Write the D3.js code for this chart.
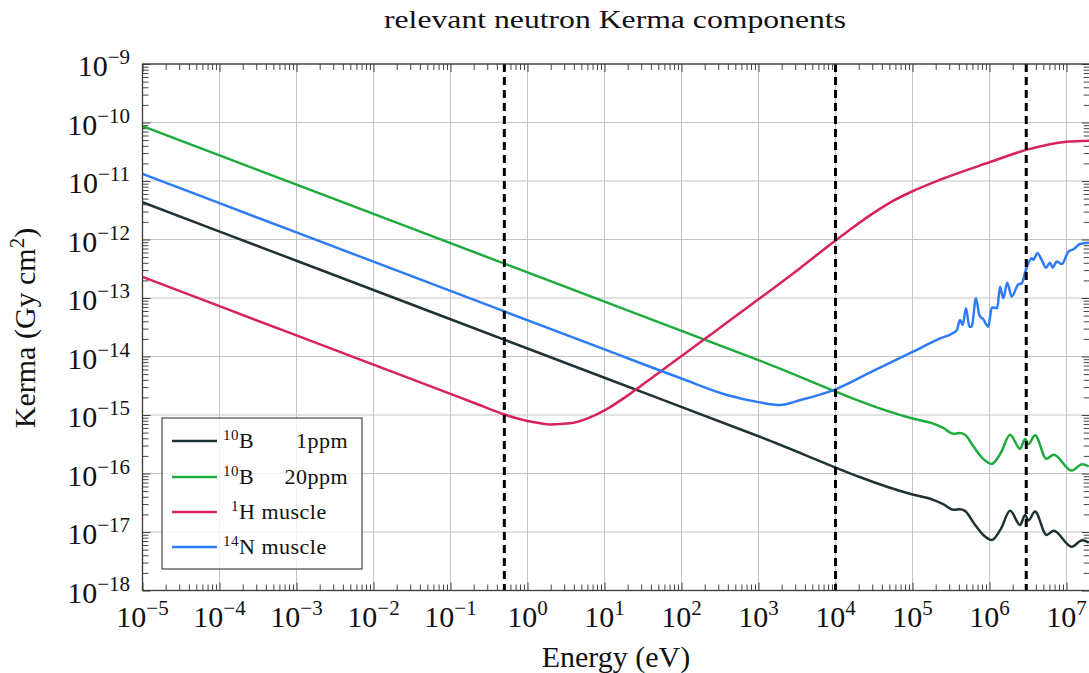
<!DOCTYPE html>
<html>
<head>
<meta charset="utf-8">
<script src="https://cdn.jsdelivr.net/npm/d3@7"></script>
<style>
  body { margin: 0; background: #fff; }
  text { font-family: "Liberation Serif", "DejaVu Serif", serif; fill: #111; }
</style>
</head>
<body>
<div id="chart"></div>
<script>
// energies (eV) and kerma values (Gy cm^2)
const boronE = [1e-5, 1e-3, 1e-1, 1e1, 1e3, 1e5, 1.86e5, 2.5e5, 3.4e5, 4.1e5, 4.8e5, 6.3e5, 8.3e5, 1.07e6, 1.4e6, 1.85e6, 2.5e6, 2.9e6, 3.2e6, 3.9e6, 5.5e6, 6.8e6, 1.17e7, 1.6e7, 1.95e7];
const boron1ppm = [4.33e-12, 4.33e-13, 4.33e-14, 4.33e-15, 4.33e-16, 4.37e-17, 3.55e-17, 3.0e-17, 2.4e-17, 2.45e-17, 2.3e-17, 1.4e-17, 8.9e-18, 7.3e-18, 1.12e-17, 2.3e-17, 1.32e-17, 1.95e-17, 1.58e-17, 2.24e-17, 8.9e-18, 1.05e-17, 5.6e-18, 7.2e-18, 6.6e-18];
const boron20ppm = [8.66e-11, 8.66e-12, 8.66e-13, 8.66e-14, 8.66e-15, 8.7e-16, 7.1e-16, 6.0e-16, 4.8e-16, 4.9e-16, 4.6e-16, 2.8e-16, 1.78e-16, 1.46e-16, 2.24e-16, 4.6e-16, 2.64e-16, 3.9e-16, 3.16e-16, 4.5e-16, 1.78e-16, 2.1e-16, 1.12e-16, 1.44e-16, 1.32e-16];

const hydrogenE = [1e-5, 1e-3, 1e-1, 0.2, 0.5, 1, 2, 3.6, 6.5, 10.7, 21.4, 42.7, 100, 190, 390, 1e3, 3.46e3, 1e4, 1.7e4, 3.1e4, 5.6e4, 1e5, 2.28e5, 1e6, 3e6, 1e7, 2e7];
const hydrogenMuscle = [2.29e-13, 2.29e-14, 2.29e-15, 1.62e-15, 1.02e-15, 7.9e-16, 6.9e-16, 7.2e-16, 9.1e-16, 1.26e-15, 2.29e-15, 4.47e-15, 1.02e-14, 1.9e-14, 3.8e-14, 9.5e-14, 3.24e-13, 9.6e-13, 1.62e-12, 2.82e-12, 4.57e-12, 6.68e-12, 1.05e-11, 2.09e-11, 3.4e-11, 4.7e-11, 4.9e-11];

const nitrogenE = [1e-5, 1e-3, 1e-1, 1e1, 1e2, 3.9e2, 1e3, 1.9e3, 3.5e3, 1e4, 3e4, 1e5, 1.25e5, 2.2e5, 3.75e5, 4.14e5, 4.49e5, 4.95e5, 5.47e5, 5.86e5, 6.68e5, 7.38e5, 8.32e5, 9.64e5, 1.07e6, 1.26e6, 1.37e6, 1.51e6, 1.7e6, 1.94e6, 2.37e6, 2.62e6, 2.98e6, 3.53e6, 3.71e6, 4.18e6, 4.76e6, 5.42e6, 6.11e6, 6.61e6, 7.46e6, 8.67e6, 1.06e7, 1.23e7, 1.5e7, 1.95e7];
const nitrogenMuscle = [1.32e-11, 1.32e-12, 1.32e-13, 1.32e-14, 4.2e-15, 2.2e-15, 1.66e-15, 1.48e-15, 1.8e-15, 2.75e-15, 5.56e-15, 1.2e-14, 1.38e-14, 2.0e-14, 2.8e-14, 4.2e-14, 3.45e-14, 6.7e-14, 3.24e-14, 3.24e-14, 9.9e-14, 5.1e-14, 4.3e-14, 3.24e-14, 6.9e-14, 6.7e-14, 1.56e-13, 9.9e-14, 1.83e-13, 1.06e-13, 1.71e-13, 1.78e-13, 3.1e-13, 4.8e-13, 4.5e-13, 5.8e-13, 4.5e-13, 3.3e-13, 4.0e-13, 3.3e-13, 4.2e-13, 3.8e-13, 6.2e-13, 6.8e-13, 8.4e-13, 8.8e-13];

const markerE = [0.5, 1e4, 3e6];
const seriesNames = ["1ppm", "20ppm", "muscle", "muscle"];

const width = 1089, height = 673;
const x = d3.scaleLog().domain([1e-5, 2e7]).range([142.5, 142.5 + 77 * Math.log10(2e12)]);
const y = d3.scaleLog().domain([1e-18, 1e-9]).range([590.5, 64]);

const svg = d3.select("#chart").append("svg")
  .attr("width", width)
  .attr("height", height);

const x0 = x.range()[0], x1 = x.range()[1], y0 = y.range()[1], y1 = y.range()[0];

const xMajor = d3.range(-5, 8).map(p => Math.pow(10, p));
const yMajor = d3.range(-18, -8).map(p => Math.pow(10, p));
const isMajor = v => Math.abs(Math.log10(v) - Math.round(Math.log10(v))) < 1e-9;
const xMinor = x.ticks(20).filter(v => !isMajor(v));
const yMinor = y.ticks(20).filter(v => !isMajor(v));

// grid
svg.append("g").selectAll("line").data(xMajor).join("line")
  .attr("x1", d => x(d)).attr("x2", d => x(d))
  .attr("y1", y0).attr("y2", y1)
  .attr("stroke", "#c4c4c4").attr("stroke-width", 1);
svg.append("g").selectAll("line").data(yMajor).join("line")
  .attr("x1", x0).attr("x2", x1)
  .attr("y1", d => y(d)).attr("y2", d => y(d))
  .attr("stroke", "#c4c4c4").attr("stroke-width", 1);

// inward ticks on all four sides
function tickAxis(axis, values, size, translate) {
  const g = svg.append("g")
    .attr("transform", translate)
    .call(axis.tickValues(values).tickSize(size).tickFormat(() => ""));
  g.select(".domain").remove();
  g.selectAll(".tick line").attr("stroke", "#444").attr("stroke-width", 1);
  return g;
}
tickAxis(d3.axisBottom(x), xMinor, -6, `translate(0,${y1})`);
tickAxis(d3.axisBottom(x), xMajor, -8, `translate(0,${y1})`);
tickAxis(d3.axisTop(x), xMinor, -6, `translate(0,${y0})`);
tickAxis(d3.axisTop(x), xMajor, -8, `translate(0,${y0})`);
tickAxis(d3.axisLeft(y), yMinor, -6, `translate(${x0},0)`);
tickAxis(d3.axisLeft(y), yMajor, -8, `translate(${x0},0)`);
tickAxis(d3.axisRight(y), yMinor, -6, `translate(${x1},0)`);
tickAxis(d3.axisRight(y), yMajor, -8, `translate(${x1},0)`);

// tick labels 10^n
const fmtExp = v => {
  const p = Math.round(Math.log10(v));
  return p < 0 ? "\u2212" + (-p) : String(p);
};
const xl = svg.append("g").selectAll("text").data(xMajor).join("text")
  .attr("x", d => x(d)).attr("y", 627)
  .attr("text-anchor", "middle")
  .style("font-size", "30px");
xl.append("tspan").text("10");
xl.append("tspan").attr("dy", -12).style("font-size", "21px").text(fmtExp);

const yl = svg.append("g").selectAll("text").data(yMajor).join("text")
  .attr("x", 130).attr("y", d => y(d) + 12)
  .attr("text-anchor", "end")
  .style("font-size", "30px");
yl.append("tspan").text("10");
yl.append("tspan").attr("dy", -12).style("font-size", "21px").text(fmtExp);

// clip
svg.append("clipPath").attr("id", "clip")
  .append("rect").attr("x", x0).attr("y", y0).attr("width", x1 - x0).attr("height", y1 - y0);

const series = [
  { e: boronE, k: boron1ppm, color: "#1f3236" },
  { e: boronE, k: boron20ppm, color: "#1cab3c" },
  { e: hydrogenE, k: hydrogenMuscle, color: "#d9225a" },
  { e: nitrogenE, k: nitrogenMuscle, color: "#2d7cf6" }
];

const line = d3.line()
  .x(d => x(d[0]))
  .y(d => y(d[1]))
  .curve(d3.curveMonotoneX);

svg.append("g").attr("clip-path", "url(#clip)")
  .selectAll("path").data(series).join("path")
  .attr("d", s => line(s.e.map((e, i) => [e, s.k[i]])))
  .attr("fill", "none")
  .attr("stroke", s => s.color)
  .attr("stroke-width", 2.5)
  .attr("stroke-linejoin", "round");

// dashed markers
svg.append("g").selectAll("line").data(markerE).join("line")
  .attr("x1", d => x(d)).attr("x2", d => x(d))
  .attr("y1", y0).attr("y2", y1)
  .attr("stroke", "#000").attr("stroke-width", 3)
  .attr("stroke-dasharray", "8,5");

// frame
svg.append("rect")
  .attr("x", x0).attr("y", y0).attr("width", x1 - x0).attr("height", y1 - y0)
  .attr("fill", "none").attr("stroke", "#3a3a3a").attr("stroke-width", 1.3);

// title and axis labels
svg.append("text").attr("x", 615).attr("y", 28).attr("text-anchor", "middle")
  .attr("textLength", 462).attr("lengthAdjust", "spacingAndGlyphs")
  .style("font-size", "26px").text("relevant neutron Kerma components");
svg.append("text").attr("x", 616).attr("y", 667).attr("text-anchor", "middle")
  .style("font-size", "30px").text("Energy (eV)");
const ylab = svg.append("text")
  .attr("transform", "translate(35,328) rotate(-90)")
  .attr("text-anchor", "middle")
  .style("font-size", "30px");
ylab.append("tspan").text("Kerma (Gy cm");
ylab.append("tspan").attr("dy", -11).style("font-size", "21px").text("2");
ylab.append("tspan").attr("dy", 11).text(")");

// legend
const legend = svg.append("g");
legend.append("rect")
  .attr("x", 162).attr("y", 418).attr("width", 200).attr("height", 151)
  .attr("fill", "#fff").attr("fill-opacity", 0.8)
  .attr("stroke", "#222").attr("stroke-width", 1);
const isotopes = [["10", "B"], ["10", "B"], ["1", "H"], ["14", "N"]];
const rowY = [441, 477, 512, 547];
const entry = legend.selectAll("g.entry").data(series).join("g").attr("class", "entry")
  .attr("transform", (d, i) => `translate(0,${rowY[i]})`);
entry.append("line")
  .attr("x1", 172).attr("x2", 217)
  .attr("stroke", d => d.color).attr("stroke-width", 2.5);
entry.each(function(d, i) {
  const g = d3.select(this);
  const startX = i === 2 ? 231 : 223;
  const t = g.append("text").attr("x", startX).attr("y", 7)
    .style("font-size", "22px").style("letter-spacing", "0.5px").attr("fill", "#333");
  t.append("tspan").attr("dy", -8).style("font-size", "15px").text(isotopes[i][0]);
  t.append("tspan").attr("dy", 8).text(isotopes[i][1]);
  if (i < 2) {
    g.append("text").attr("x", 348).attr("y", 7).attr("text-anchor", "end")
      .style("font-size", "22px").style("letter-spacing", "0.5px").attr("fill", "#333")
      .text(seriesNames[i]);
  } else {
    t.append("tspan").text(" " + seriesNames[i]);
  }
});
</script>
</body>
</html>
